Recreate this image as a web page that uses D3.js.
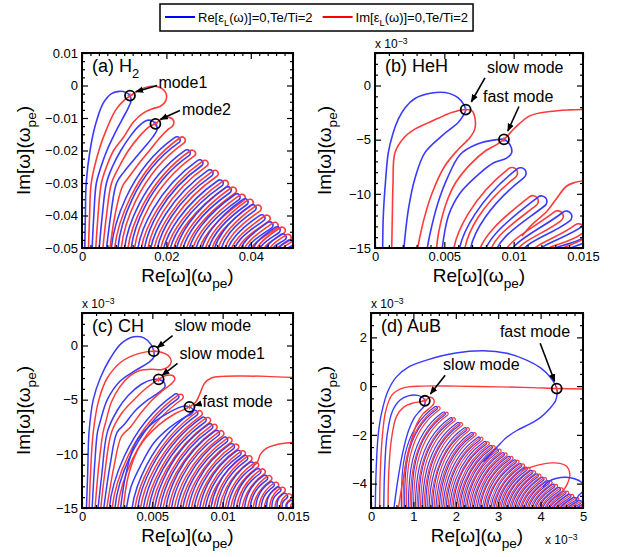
<!DOCTYPE html>
<html>
<head>
<meta charset="utf-8">
<script src="https://cdn.jsdelivr.net/npm/d3@7"></script>
<style>
body { margin: 0; background: #fff; }
svg text { font-family: "Liberation Sans", Arial, Helvetica, sans-serif; fill: #000; }
</style>
</head>
<body>
<svg id="fig" width="618" height="557"></svg>
<script>
// ---- panel (a) H2 ----
const aXTicks = [0, 0.02, 0.04];
const aXLabels = ["0", "0.02", "0.04"];
const aYTicks = [0.01, 0, -0.01, -0.02, -0.03, -0.04, -0.05];
const aYLabels = ["0.01", "0", "\u22120.01", "\u22120.02", "\u22120.03", "\u22120.04", "\u22120.05"];
// regular fingers: base of first leg, tip of outer finger
const aBase = [0.0068, 0.0099, 0.0130, 0.0160, 0.0190, 0.0220, 0.0250, 0.0280, 0.0310, 0.0340, 0.0370, 0.0400, 0.0430, 0.0460];
const aTipX = [0.0237, 0.0261, 0.0291, 0.0315, 0.0339, 0.0358, 0.0379, 0.0398, 0.0417, 0.0438, 0.0457, 0.0474, 0.0488, 0.0505];
const aTipY = [-0.0169, -0.0209, -0.0240, -0.0271, -0.0302, -0.0323, -0.0345, -0.0360, -0.0378, -0.0409, -0.0431, -0.0446, -0.0468, -0.0486];
const aBlue1 = [[0.0006,-0.056],[0.0008,-0.04],[0.0010,-0.03],[0.0019,-0.02],[0.0032,-0.012],[0.0050,-0.0055],[0.0070,-0.0025],[0.0088,-0.0018],[0.0105,-0.0022],[0.0114,-0.0032],[0.0116,-0.0048],[0.0110,-0.0068],[0.0095,-0.0105],[0.0075,-0.0155],[0.0059,-0.02],[0.0045,-0.025],[0.0034,-0.03],[0.0028,-0.04],[0.0022,-0.056]];
const aRed1 = [[0.0014,-0.056],[0.0018,-0.04],[0.0022,-0.03],[0.0040,-0.02],[0.0058,-0.0135],[0.0080,-0.0075],[0.0100,-0.0045],[0.0114,-0.0032],[0.0135,-0.0014],[0.0160,-0.0003],[0.0184,-0.0006],[0.0199,-0.0024],[0.0198,-0.0048],[0.0186,-0.0064],[0.0166,-0.0072],[0.0145,-0.0085],[0.0122,-0.0112],[0.0098,-0.0160],[0.0075,-0.0200],[0.0058,-0.025],[0.0046,-0.03],[0.0038,-0.04],[0.0030,-0.056]];
const aBlue2 = [[0.0037,-0.056],[0.0048,-0.04],[0.0058,-0.03],[0.0072,-0.025],[0.0092,-0.02],[0.0115,-0.0155],[0.0137,-0.0122],[0.0155,-0.0107],[0.0168,-0.0110],[0.0176,-0.0121],[0.0178,-0.0136],[0.0168,-0.0158],[0.0148,-0.0190],[0.0122,-0.0230],[0.0100,-0.0265],[0.0082,-0.030],[0.0068,-0.040],[0.0053,-0.056]];
const aRed2 = [[0.0045,-0.056],[0.0058,-0.04],[0.0070,-0.03],[0.0088,-0.025],[0.0110,-0.02],[0.0135,-0.0158],[0.0158,-0.0128],[0.0173,-0.0118],[0.0190,-0.0102],[0.0206,-0.0098],[0.0217,-0.0108],[0.0215,-0.0124],[0.0204,-0.0135],[0.0185,-0.0160],[0.0160,-0.0200],[0.0135,-0.0240],[0.0112,-0.0280],[0.0096,-0.031],[0.0078,-0.040],[0.0061,-0.056]];
const aModes = [[0.01137, -0.0031], [0.0174, -0.0118]];

// ---- panel (b) HeH ----
const bXTicks = [0, 0.005, 0.01, 0.015];
const bXLabels = ["0", "0.005", "0.01", "0.015"];
const bYTicks = [0, -5, -10, -15];
const bYLabels = ["0", "\u22125", "\u221210", "\u221215"];
const bBase = [0.0056, 0.0074, 0.0092, 0.0110, 0.0128, 0.0142];
const bTipX = [0.0105, 0.0120, 0.0138, 0.0153, 0.0161, 0.0166];
const bTipY = [-8.1, -10.7, -12.1, -13.3, -14.4, -15.3];
const bBlue1 = [[0.00055,-15.5],[0.0006,-12],[0.00075,-9],[0.00096,-6.2],[0.0013,-4.4],[0.00168,-3.1],[0.0022,-2.0],[0.00288,-1.2],[0.0040,-0.72],[0.00505,-0.65],[0.0060,-1.15],[0.00654,-2.22],[0.0063,-2.9],[0.0060,-3.42],[0.0048,-4.67],[0.0036,-6.2],[0.0029,-8.5],[0.0024,-11.5],[0.00205,-15.5]];
const bRed1 = [[0.0012,-15.5],[0.00125,-12],[0.0013,-9],[0.00144,-6.2],[0.0021,-4.8],[0.0029,-4.0],[0.0036,-3.58],[0.0046,-3.0],[0.00553,-2.5],[0.00654,-2.22],[0.0070,-2.35],[0.0072,-2.95],[0.0072,-4.0],[0.00685,-4.8],[0.0060,-5.9],[0.0050,-7.5],[0.0041,-10],[0.0035,-12.5],[0.0030,-15.5]];
const bBlue2 = [[0.0037,-15.5],[0.0040,-13.5],[0.0045,-11],[0.0052,-8.6],[0.00613,-6.39],[0.0073,-5.45],[0.00877,-5.0],[0.0093,-4.98],[0.00973,-5.46],[0.00985,-6.23],[0.00949,-6.7],[0.00853,-7.16],[0.00757,-8.09],[0.00613,-9.94],[0.0053,-12],[0.0048,-15.5]];
const bRed2 = [[0.0044,-15.5],[0.0046,-13.5],[0.0051,-11],[0.0058,-9],[0.00685,-7.3],[0.0080,-6.0],[0.00877,-5.46],[0.0093,-4.98],[0.0098,-4.3],[0.0102,-3.77],[0.0112,-2.78],[0.0126,-2.4],[0.0140,-2.25],[0.0155,-2.2]];
const bRedBranch = [[0.0106,-13.9],[0.0112,-13.0],[0.0118,-12.3],[0.0124,-11.6],[0.0130,-10.6],[0.0138,-9.3],[0.0144,-8.95],[0.0155,-8.7]];
const bModes = [[0.00654, -2.22], [0.0093, -4.98]];

// ---- panel (c) CH ----
const cXTicks = [0, 0.005, 0.01, 0.015];
const cXLabels = ["0", "0.005", "0.01", "0.015"];
const cYTicks = [0, -5, -10, -15];
const cYLabels = ["0", "\u22125", "\u221210", "\u221215"];
const cBase = [0.0019, 0.0035, 0.0043, 0.0051, 0.0059, 0.0067, 0.0075, 0.0083, 0.0091, 0.0099, 0.0107, 0.0115, 0.0123, 0.0131, 0.0139, 0.0147];
const cTipX = [0.0070, 0.00835, 0.00894, 0.00941, 0.00989, 0.01047, 0.01095, 0.01142, 0.01189, 0.01236, 0.01283, 0.0133, 0.01378, 0.01425, 0.01472, 0.0152];
const cTipY = [-4.75, -6.28, -6.9, -7.52, -8.13, -8.74, -9.36, -9.97, -10.43, -11.04, -11.66, -12.27, -12.88, -13.34, -13.95, -14.6];
const cBlue1 = [[0.0003,-15.5],[0.0004,-12],[0.0005,-8],[0.0008,-5],[0.0013,-3],[0.0020,-1.2],[0.0028,0.2],[0.0037,0.8],[0.0044,0.7],[0.0049,0.1],[0.0051,-0.52],[0.0051,-1.1],[0.0047,-1.6],[0.0038,-2.3],[0.0027,-3.3],[0.0018,-5],[0.0013,-7],[0.0011,-8],[0.0009,-11],[0.0007,-15.5]];
const cRed1 = [[0.0005,-15.5],[0.0006,-12],[0.0008,-8],[0.0012,-5],[0.0018,-3],[0.0028,-1.5],[0.0040,-0.75],[0.0051,-0.52],[0.0057,-0.65],[0.00615,-0.95],[0.00635,-1.5],[0.0061,-2.0],[0.0057,-2.22],[0.0049,-2.2],[0.0041,-2.3],[0.0034,-2.8],[0.0027,-3.8],[0.0021,-5.2],[0.0017,-7],[0.0015,-8],[0.0012,-11],[0.0009,-15.5]];
const cBlue2 = [[0.0011,-15.5],[0.0014,-12],[0.0018,-8],[0.0025,-6],[0.0033,-4.6],[0.0042,-3.6],[0.0050,-3.15],[0.00545,-3.13],[0.0058,-3.35],[0.0059,-3.8],[0.0055,-4.3],[0.0047,-5.0],[0.0038,-6.0],[0.0030,-7.3],[0.0025,-8],[0.0020,-11],[0.0015,-15.5]];
const cRed2 = [[0.0013,-15.5],[0.0016,-12],[0.0021,-8],[0.0028,-6.3],[0.0037,-5.0],[0.0046,-3.9],[0.00545,-3.13],[0.0059,-2.8],[0.0064,-2.75],[0.0066,-3.1],[0.0063,-3.6],[0.0057,-4.2],[0.0050,-5.0],[0.0042,-6.2],[0.0034,-7.6],[0.0028,-8.4],[0.0023,-11],[0.0017,-15.5]];
const cBlue4 = [[0.0027,-15.5],[0.0031,-12],[0.0038,-9],[0.0050,-7.2],[0.0063,-6.1],[0.0072,-5.6],[0.00764,-5.67],[0.0079,-5.95],[0.0078,-6.3],[0.0072,-6.7],[0.0062,-7.6],[0.0051,-9],[0.0042,-11],[0.0035,-13],[0.0031,-15.5]];
const cRed4 = [[0.0029,-15.5],[0.0033,-12],[0.0041,-9.3],[0.0054,-7.4],[0.0066,-6.3],[0.00764,-5.67],[0.0081,-5.2],[0.0084,-4.4],[0.0087,-3.5],[0.0092,-3.0],[0.0100,-2.85],[0.0115,-2.82],[0.0131,-2.85],[0.0155,-2.98]];
const cRedBranch = [[0.0121,-11.2],[0.01245,-10.8],[0.0127,-10.0],[0.0131,-9.5],[0.0137,-9.2],[0.01425,-9.05],[0.0155,-8.85]];
const cModes = [[0.0051, -0.52], [0.00545, -3.13], [0.00764, -5.67]];

// ---- panel (d) AuB (both axes x 10^-3) ----
const dXTicks = [0, 1, 2, 3, 4, 5];
const dXLabels = ["0", "1", "2", "3", "4", "5"];
const dYTicks = [2, 0, -2, -4];
const dYLabels = ["2", "0", "\u22122", "\u22124"];
const dBase = [0.72, 0.88, 1.04, 1.20, 1.36, 1.52, 1.68, 1.84, 2.00, 2.16, 2.32, 2.48, 2.64, 2.80, 2.96, 3.12, 3.28, 3.44, 3.60, 3.76, 3.92, 4.08, 4.24, 4.40, 4.56, 4.72, 4.88];
const dTipX = [1.59, 1.78, 1.95, 2.12, 2.28, 2.44, 2.60, 2.75, 2.89, 3.03, 3.17, 3.31, 3.45, 3.58, 3.71, 3.84, 3.97, 4.10, 4.23, 4.36, 4.49, 4.62, 4.74, 4.86, 4.98, 5.10, 5.20];
const dTipY = [-0.91, -1.14, -1.37, -1.57, -1.78, -1.98, -2.17, -2.35, -2.51, -2.66, -2.81, -2.96, -3.11, -3.26, -3.40, -3.54, -3.68, -3.82, -3.96, -4.10, -4.24, -4.38, -4.51, -4.64, -4.77, -4.90, -5.00];
const dBlue1 = [[0.10,-5.3],[0.12,-3.5],[0.17,-2.0],[0.25,-1.1],[0.40,-0.2],[0.60,0.38],[0.90,0.80],[1.31,1.07],[2.00,1.36],[2.65,1.45],[3.20,1.35],[3.67,1.07],[4.00,0.75],[4.22,0.38],[4.38,-0.10],[4.36,-0.57],[4.20,-0.95],[4.00,-1.28],[3.75,-1.55],[3.44,-1.82],[3.20,-2.10],[3.00,-2.45],[2.85,-2.75],[2.65,-3.1]];
const dRed1 = [[0.20,-5.3],[0.22,-3.5],[0.27,-2.0],[0.35,-1.0],[0.50,-0.35],[0.75,-0.08],[1.2,0.0],[2.0,0.0],[3.0,-0.03],[3.8,-0.06],[4.38,-0.10],[5.1,-0.12]];
const dBlue2 = [[0.30,-5.3],[0.32,-3.5],[0.38,-2.0],[0.50,-1.05],[0.68,-0.58],[0.88,-0.40],[1.10,-0.38],[1.22,-0.47],[1.27,-0.60],[1.26,-0.80],[1.16,-1.00],[1.02,-1.30],[0.88,-1.85],[0.74,-2.8],[0.62,-4.0],[0.52,-5.3]];
const dRed2 = [[0.40,-5.3],[0.42,-3.5],[0.48,-2.2],[0.60,-1.25],[0.78,-0.85],[1.02,-0.68],[1.27,-0.60],[1.38,-0.46],[1.47,-0.52],[1.48,-0.72],[1.37,-0.92],[1.22,-1.15],[1.08,-1.55],[0.94,-2.3],[0.78,-3.6],[0.62,-5.3]];
const dRedLoop = [[3.55,-3.45],[3.67,-3.38],[3.99,-3.22],[4.25,-3.15],[4.46,-3.17],[4.62,-3.3],[4.69,-3.6],[4.62,-4.05],[4.50,-4.35],[4.38,-4.6]];
const dBlueLoop = [[4.05,-4.15],[4.18,-3.92],[4.38,-3.78],[4.6,-3.74],[4.8,-3.8],[4.97,-3.95],[5.03,-4.15],[4.98,-4.35],[4.89,-4.5],[4.84,-4.7]];
const dModes = [[1.27, -0.6], [4.38, -0.1]];

const blue = "#3a3aff", red = "#ff3a3a";

const svg = d3.select("#fig");
const defs = svg.append("defs");
defs.append("marker").attr("id", "arrow")
  .attr("viewBox", "0 0 10 10").attr("refX", 9).attr("refY", 5)
  .attr("markerWidth", 8).attr("markerHeight", 8)
  .attr("markerUnits", "userSpaceOnUse").attr("orient", "auto")
  .append("path").attr("d", "M0,1L10,5L0,9z").attr("fill", "#000");

// text with sub/superscripts: parts = [[string, shift]] shift 1 = sub, -1 = sup
function richText(g, x, y, parts, size, anchor, rotate) {
  const t = g.append("text").attr("font-size", size).attr("text-anchor", anchor || "start");
  if (rotate) t.attr("transform", `translate(${x},${y}) rotate(-90)`);
  else t.attr("x", x).attr("y", y);
  let cur = 0;
  parts.forEach(([str, shift]) => {
    const ts = t.append("tspan").text(str);
    const dy = (shift - cur) * size * 0.32;
    if (dy) ts.attr("dy", dy);
    if (shift) ts.attr("font-size", size * 0.72);
    cur = shift;
  });
  return t;
}

// thin hairpin finger: leg at xL going up to a rounded tip (tx,ty), back down at xL+2h
function hairpin(xL, tx, ty, h, phi, yB) {
  const d = [Math.cos(phi), -Math.sin(phi)], n = [-Math.sin(phi), -Math.cos(phi)];
  const TL = [tx + n[0] * h, ty + n[1] * h], TR = [tx - n[0] * h, ty - n[1] * h];
  const xR = xL + 2 * h, y0 = yB + 12, H = Math.max(yB - ty, 4);
  const k1 = 0.2, k2 = 0.4;
  const p = d3.path();
  let dist = Math.hypot(TL[0] - xL, TL[1] - y0);
  p.moveTo(xL, y0);
  p.bezierCurveTo(xL, yB - k1 * H, TL[0] - d[0] * k2 * dist, TL[1] - d[1] * k2 * dist, TL[0], TL[1]);
  const a0 = Math.atan2(n[1], n[0]);
  p.arc(tx, ty, h, a0, a0 + Math.PI, false);
  dist = Math.hypot(TR[0] - xR, TR[1] - y0);
  p.bezierCurveTo(TR[0] - d[0] * k2 * dist, TR[1] - d[1] * k2 * dist, xR, yB - k1 * H, xR, y0);
  return p.toString();
}

function drawPanel(p) {
  const x = d3.scaleLinear().domain(p.xDomain).range([p.left, p.right]);
  const y = d3.scaleLinear().domain(p.yDomain).range([p.bottom, p.top]);
  defs.append("clipPath").attr("id", "clip-" + p.name).append("rect")
    .attr("x", p.left).attr("y", p.top)
    .attr("width", p.right - p.left).attr("height", p.bottom - p.top);
  const g = svg.append("g");
  const plot = g.append("g").attr("clip-path", `url(#clip-${p.name})`).attr("fill", "none");
  const line = d3.line().x(d => x(d[0])).y(d => y(d[1])).curve(d3.curveCatmullRom.alpha(0.5));

  // regular fingers, inner and outer of each pair
  const phi = p.phi * Math.PI / 180, s = p.s;
  const dv = [Math.cos(phi), -Math.sin(phi)], nv = [-Math.sin(phi), -Math.cos(phi)];
  p.base.forEach((b, i) => {
    const tx = x(p.tipX[i]), ty = y(p.tipY[i]);
    const ix = tx - dv[0] * 1.2 * s + nv[0] * s, iy = ty - dv[1] * 1.2 * s + nv[1] * s;
    plot.append("path").attr("d", hairpin(x(b), ix, iy, s, phi, p.bottom))
      .attr("stroke", p.inner).attr("stroke-width", p.lw);
    plot.append("path").attr("d", hairpin(x(b) + s, tx, ty, s, phi, p.bottom))
      .attr("stroke", p.outer).attr("stroke-width", p.lw);
  });

  p.curves.forEach(c => {
    plot.append("path").attr("d", line(c[1])).attr("stroke", c[0]).attr("stroke-width", p.curveLw || p.lw);
  });

  // mode circles
  p.modes.forEach(m => {
    const cx = x(m[0]), cy = y(m[1]);
    g.append("path").attr("d", `M${cx - 2.5},${cy}H${cx + 2.5}M${cx},${cy - 2.5}V${cy + 2.5}`)
      .attr("stroke", red).attr("stroke-width", 1);
    g.append("circle").attr("cx", cx).attr("cy", cy).attr("r", 5)
      .attr("fill", "none").attr("stroke", "#000").attr("stroke-width", 1.8);
  });

  // annotations: [text, textX, textY, fromX, fromY, toX, toY]
  p.notes.forEach(a => {
    g.append("text").attr("x", x(a[1])).attr("y", y(a[2])).attr("font-size", 16).text(a[0]);
    g.append("line").attr("x1", x(a[3])).attr("y1", y(a[4])).attr("x2", x(a[5])).attr("y2", y(a[6]))
      .attr("stroke", "#000").attr("stroke-width", 1.6).attr("marker-end", "url(#arrow)");
  });

  // axes, MATLAB style: inward ticks on all four sides
  const fmt = labels => (d, i) => labels[i];
  const minorX = d3.range(p.xDomain[0], p.xDomain[1] + 1e-9, p.xMinor).filter(v => !p.xTicks.some(t => Math.abs(t - v) < 1e-9));
  const minorY = d3.range(p.yDomain[0], p.yDomain[1] + 1e-9, p.yMinor).filter(v => !p.yTicks.some(t => Math.abs(t - v) < 1e-9));
  const ax = [
    [d3.axisBottom(x).tickValues(p.xTicks).tickFormat(fmt(p.xLabels)), `translate(0,${p.bottom})`],
    [d3.axisTop(x).tickValues(p.xTicks).tickFormat(""), `translate(0,${p.top})`],
    [d3.axisLeft(y).tickValues(p.yTicks).tickFormat(fmt(p.yLabels)), `translate(${p.left},0)`],
    [d3.axisRight(y).tickValues(p.yTicks).tickFormat(""), `translate(${p.right},0)`],
    [d3.axisBottom(x).tickValues(minorX).tickFormat(""), `translate(0,${p.bottom})`, 1],
    [d3.axisTop(x).tickValues(minorX).tickFormat(""), `translate(0,${p.top})`, 1],
    [d3.axisLeft(y).tickValues(minorY).tickFormat(""), `translate(${p.left},0)`, 1],
    [d3.axisRight(y).tickValues(minorY).tickFormat(""), `translate(${p.right},0)`, 1]
  ];
  ax.forEach(([a, tr, minor]) => {
    const ag = g.append("g").attr("transform", tr)
      .call(a.tickSize(minor ? -3 : -6).tickSizeOuter(0).tickPadding(4));
    ag.select(".domain").remove();
    ag.selectAll("line").attr("stroke", "#000").attr("stroke-width", 1.2);
    ag.selectAll("text").attr("font-size", 13).attr("font-family", null);
  });
  g.append("rect").attr("x", p.left).attr("y", p.top)
    .attr("width", p.right - p.left).attr("height", p.bottom - p.top)
    .attr("fill", "none").attr("stroke", "#000").attr("stroke-width", 2);

  // labels
  const cx = (p.left + p.right) / 2, cy = (p.top + p.bottom) / 2;
  richText(g, cx, p.bottom + 34, [["Re[\u03c9](\u03c9", 0], ["pe", 1], [")", 0]], 19, "middle");
  richText(g, p.left - p.yTitleGap, cy, [["Im[\u03c9](\u03c9", 0], ["pe", 1], [")", 0]], 19, "middle", true);
  richText(g, p.left + 10, p.top + 19, p.title, 18, "start");
  if (p.yExp) richText(g, p.left, p.top - 5, [["x 10", 0], ["\u22123", -1]], 12, "start");
  if (p.xExp) richText(g, p.right - 38, p.bottom + 36, [["x 10", 0], ["\u22123", -1]], 12, "start");
}

drawPanel({
  name: "a", left: 82, right: 293, top: 53, bottom: 248,
  xDomain: [0, 0.05], yDomain: [-0.05, 0.01], xMinor: 0.002, yMinor: 0.0025,
  xTicks: aXTicks, xLabels: aXLabels, yTicks: aYTicks, yLabels: aYLabels,
  base: aBase, tipX: aTipX, tipY: aTipY, s: 3.3, phi: 35, lw: 1.6, inner: blue, outer: red,
  curves: [[blue, aBlue1], [red, aRed1], [blue, aBlue2], [red, aRed2]],
  modes: aModes,
  notes: [["mode1", 0.0181, -0.0009, 0.0178, 0.0, 0.0128, -0.0019],
          ["mode2", 0.0237, -0.0092, 0.0232, -0.0077, 0.0186, -0.0104]],
  title: [["(a) H", 0], ["2", 1]], yTitleGap: 52
});
drawPanel({
  name: "b", left: 375, right: 583, top: 53, bottom: 248,
  xDomain: [0, 0.015], yDomain: [-15, 3], xMinor: 0.001, yMinor: 1,
  xTicks: bXTicks, xLabels: bXLabels, yTicks: bYTicks, yLabels: bYLabels,
  base: bBase, tipX: bTipX, tipY: bTipY, s: 5.5, phi: 38, lw: 1.6, inner: red, outer: blue,
  curves: [[blue, bBlue1], [red, bRed1], [blue, bBlue2], [red, bRed2], [red, bRedBranch]],
  modes: bModes,
  notes: [["slow mode", 0.00808, 1.2, 0.00793, 0.7, 0.00695, -1.5],
          ["fast mode", 0.00779, -1.48, 0.01038, -1.94, 0.00958, -4.2]],
  title: [["(b) HeH", 0]], yTitleGap: 44, yExp: true
});
drawPanel({
  name: "c", left: 82, right: 293, top: 313, bottom: 508,
  xDomain: [0, 0.015], yDomain: [-15, 3], xMinor: 0.001, yMinor: 1,
  xTicks: cXTicks, xLabels: cXLabels, yTicks: cYTicks, yLabels: cYLabels,
  base: cBase, tipX: cTipX, tipY: cTipY, s: 2.8, phi: 35, lw: 1.5, inner: blue, outer: red,
  curves: [[blue, cBlue1], [red, cRed1], [blue, cBlue2], [red, cRed2], [blue, cBlue4], [red, cRed4], [red, cRedBranch]],
  modes: cModes,
  notes: [["slow mode", 0.00658, 1.38, 0.00644, 0.92, 0.00535, -0.2],
          ["slow mode1", 0.00694, -1.2, 0.00679, -1.66, 0.0057, -2.75],
          ["fast mode", 0.00856, -5.7, 0.00849, -5.36, 0.0080, -5.55]],
  title: [["(c) CH", 0]], yTitleGap: 52, yExp: true
});
drawPanel({
  name: "d", left: 371, right: 583, top: 313, bottom: 508,
  xDomain: [0, 5], yDomain: [-5, 3], xMinor: 0.2, yMinor: 0.5,
  xTicks: dXTicks, xLabels: dXLabels, yTicks: dYTicks, yLabels: dYLabels,
  base: dBase, tipX: dTipX, tipY: dTipY, s: 1.7, phi: 35, lw: 1.2, curveLw: 1.4, inner: blue, outer: red,
  curves: [[blue, dBlue1], [red, dRed1], [blue, dBlue2], [red, dRed2], [red, dRedLoop], [blue, dBlueLoop]],
  modes: dModes,
  notes: [["fast mode", 3.04, 2.01, 3.99, 1.76, 4.33, 0.2],
          ["slow mode", 1.70, 0.66, 1.75, 0.45, 1.4, -0.32]],
  title: [["(d) AuB", 0]], yTitleGap: 40, yExp: true, xExp: true
});

// legend
const leg = svg.append("g");
const legItems = [["#0000ff", "Re"], ["#ff0000", "Im"]];
let lx = 165;
legItems.forEach(([col, part]) => {
  leg.append("line").attr("x1", lx).attr("x2", lx + 30).attr("y1", 17).attr("y2", 17)
    .attr("stroke", col).attr("stroke-width", 2);
  const t = richText(leg, lx + 33, 22, [[part + "[\u03b5", 0], ["L", 1], ["(\u03c9)]=0,Te/Ti=2", 0]], 13, "start");
  lx += 33 + t.node().getComputedTextLength() + 10;
});
leg.insert("rect", ":first-child").attr("x", 160).attr("y", 4).attr("width", lx - 5 - 160).attr("height", 27)
  .attr("fill", "#fff").attr("stroke", "#000").attr("stroke-width", 1.5);
</script>
</body>
</html>
